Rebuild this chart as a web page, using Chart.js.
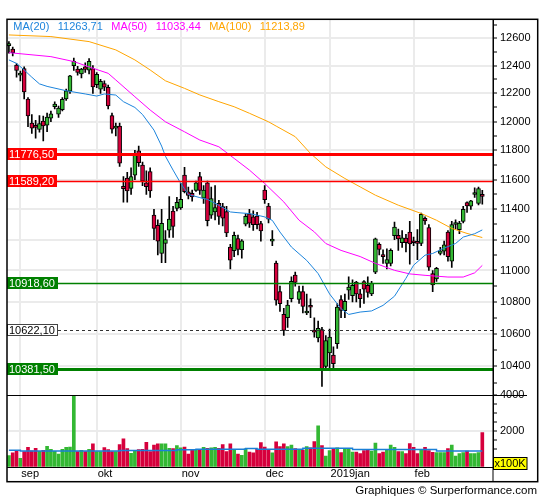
<!DOCTYPE html>
<html>
<head>
<meta charset="utf-8">
<script src="https://cdn.jsdelivr.net/npm/chart.js@4.4.1/dist/chart.umd.min.js"></script>
<style>
  html, body { margin: 0; padding: 0; background: #fff; }
  #wrap { width: 545px; height: 500px; }
</style>
</head>
<body>
<div id="wrap"><canvas id="chart" width="545" height="500"></canvas></div>
<script>
// trading days on the chart
const dates = [
  "2018-08-29","2018-08-30","2018-08-31",
  "2018-09-03","2018-09-04","2018-09-05","2018-09-06","2018-09-07","2018-09-10","2018-09-11","2018-09-12","2018-09-13","2018-09-14",
  "2018-09-17","2018-09-18","2018-09-19","2018-09-20","2018-09-21","2018-09-24","2018-09-25","2018-09-26","2018-09-27","2018-09-28",
  "2018-10-01","2018-10-02","2018-10-04","2018-10-05","2018-10-08","2018-10-09","2018-10-10","2018-10-11","2018-10-12","2018-10-15",
  "2018-10-16","2018-10-17","2018-10-18","2018-10-19","2018-10-22","2018-10-23","2018-10-24","2018-10-25","2018-10-26","2018-10-29",
  "2018-10-30","2018-10-31",
  "2018-11-01","2018-11-02","2018-11-05","2018-11-06","2018-11-07","2018-11-08","2018-11-09","2018-11-12","2018-11-13","2018-11-14",
  "2018-11-15","2018-11-16","2018-11-19","2018-11-20","2018-11-21","2018-11-22","2018-11-23","2018-11-26","2018-11-27","2018-11-28",
  "2018-11-29","2018-11-30",
  "2018-12-03","2018-12-04","2018-12-05","2018-12-06","2018-12-07","2018-12-10","2018-12-11","2018-12-12","2018-12-13","2018-12-14",
  "2018-12-17","2018-12-18","2018-12-19","2018-12-20","2018-12-21","2018-12-27","2018-12-28",
  "2019-01-02","2019-01-03","2019-01-04","2019-01-07","2019-01-08","2019-01-09","2019-01-10","2019-01-11","2019-01-14","2019-01-15",
  "2019-01-16","2019-01-17","2019-01-18","2019-01-21","2019-01-22","2019-01-23","2019-01-24","2019-01-25","2019-01-28","2019-01-29",
  "2019-01-30","2019-01-31",
  "2019-02-01","2019-02-04","2019-02-05","2019-02-06","2019-02-07","2019-02-08","2019-02-11","2019-02-12","2019-02-13","2019-02-14",
  "2019-02-15","2019-02-18","2019-02-19","2019-02-20","2019-02-21","2019-02-22","2019-02-25","2019-02-26","2019-02-27"
];

const open = [12545,12520,12404,12330,12379,12160,11990,11970,11945,12004,
  11975,12025,12105,12053,12085,12160,12215,12400,12375,12340,
  12390,12367,12379,12263,12230,12270,12244,12043,11955,11969,
  11555,11610,11540,11630,11797,11700,11578,11654,11363,11295,
  11110,11175,11262,11388,11406,11410,11631,11518,11507,11528,
  11620,11475,11578,11361,11383,11440,11418,11385,11151,11129,
  11207,11135,11302,11371,11350,11355,11306,11530,11422,11190,
  11047,10866,10721,10701,10820,10970,10815,10866,10730,10771,
  10616,10575,10627,10400,10482,10470,10540,10815,10745,10875,
  10840,10925,10851,10929,10905,10850,10990,11169,11100,11045,
  11045,11226,11229,11180,11210,11250,11185,11185,11175,11340,
  11280,10980,10946,11110,11125,11250,11060,11300,11265,11320,
  11445,11422,11500,11440,11500];

const high = [12575,12535,12415,12360,12390,12170,12050,12010,12043,12040,
  12060,12075,12140,12110,12170,12230,12330,12455,12395,12380,
  12420,12450,12400,12350,12300,12290,12260,12060,11990,11990,
  11620,11650,11680,11800,11830,11720,11660,11680,11400,11330,
  11400,11260,11485,11420,11480,11575,11683,11550,11530,11590,
  11650,11560,11590,11550,11560,11460,11440,11420,11170,11250,
  11230,11200,11370,11400,11390,11380,11320,11560,11440,11260,
  11060,10900,10760,10810,10960,10990,10900,10900,10850,10820,
  10700,10680,10640,10590,10630,10520,10790,10840,10850,10960,
  10940,10930,10880,10935,10960,10930,11210,11180,11133,11140,
  11140,11316,11270,11260,11235,11320,11217,11266,11375,11350,
  11300,11000,11020,11150,11190,11260,11320,11330,11320,11420,
  11450,11460,11545,11549,11527];

const low = [12490,12470,12316,12290,12160,11965,11918,11884,11926,11865,
  11930,12000,12090,12030,12075,12150,12200,12365,12330,12310,
  12350,12340,12200,12240,12200,12220,12090,11920,11900,11690,
  11448,11448,11500,11600,11690,11560,11500,11480,11200,11100,
  11050,11050,11215,11215,11390,11400,11510,11470,11455,11520,
  11500,11440,11290,11340,11330,11300,11290,11220,11010,11090,
  11100,11080,11290,11280,11260,11270,11190,11440,11310,11160,
  10780,10740,10590,10640,10800,10900,10790,10730,10720,10700,
  10580,10550,10279,10380,10380,10390,10510,10700,10700,10815,
  10800,10800,10765,10790,10830,10840,10980,11100,11045,11010,
  11030,11200,11130,11150,11120,11040,11160,11070,11160,11300,
  11000,10865,10930,11100,11100,11060,11020,11270,11240,11310,
  11380,11400,11480,11430,11435];

const close = [12561,12494,12364,12346,12210,12040,11955,11960,11987,11970,
  12032,12055,12124,12096,12157,12219,12326,12430,12350,12374,
  12372,12430,12247,12337,12287,12245,12111,11947,11969,11712,
  11539,11523,11620,11777,11715,11589,11553,11524,11274,11191,
  11307,11201,11335,11287,11447,11468,11519,11494,11484,11579,
  11527,11529,11325,11472,11412,11353,11341,11244,11066,11229,
  11136,11192,11354,11309,11299,11298,11257,11465,11335,11200,
  10811,10788,10622,10780,10931,10924,10866,10772,10740,10766,
  10611,10634,10382,10559,10580,10417,10768,10747,10804,10894,
  10905,10851,10821,10880,10860,10918,11205,11136,11090,11071,
  11130,11282,11205,11212,11180,11173,11180,11176,11368,11324,
  11022,10907,11014,11127,11167,11090,11299,11309,11309,11401,
  11423,11457,11505,11540,11487];

// volume in units of 100K
const volume = [645,800,890,500,870,1110,910,1060,890,945,
  1170,1000,890,740,1000,1110,1130,4000,870,945,
  870,1000,1300,870,870,1090,980,870,870,1260,
  1575,1040,780,890,980,1000,1390,870,1240,1300,
  1300,1300,1060,1040,1205,1075,1130,740,945,980,
  1000,1110,1060,1075,1110,1060,1260,870,1300,960,
  740,665,1020,850,800,1000,1370,1130,960,800,
  1410,1150,1300,1150,1240,1035,960,960,1150,1075,
  1425,2300,1200,630,925,1000,1075,815,1055,1055,
  850,850,760,925,1000,905,1350,760,850,1000,
  1240,1110,870,870,760,1315,1110,760,1000,1110,
  925,835,815,815,815,1035,1240,630,760,815,
  905,760,760,815,1925];

// volume average, read where its steps change: [day index, value]
const volAvg = [[0,945],[3,905],[29,935],[44,975],[49,1000],[62,1040],[65,1000],
  [77,1055],[90,990],[112,910],[124,910]];

// moving averages: [day index, value]
const ma20 = [[0,12441],[2,12416],[4,12368],[6,12316],[8,12268],[10,12250],[15,12219],
  [20,12196],[23,12181],[25,12196],[28,12188],[30,12141],[33,12100],[35,12050],[38,11941],
  [40,11830],[41,11760],[43,11665],[45,11575],[47,11500],[50,11479],[52,11467],[55,11427],
  [58,11383],[60,11378],[63,11372],[66,11356],[67,11350],[69,11327],[71,11250],[74,11152],
  [78,11065],[81,10980],[84,10850],[87,10757],[89,10721],[92,10736],[95,10743],[98,10778],
  [101,10836],[104,10950],[106,11034],[109,11099],[111,11110],[114,11145],[117,11175],
  [119,11217],[122,11239],[124,11264]];
const ma50 = [[0,12494],[11,12465],[17,12429],[22,12381],[26,12344],[28,12296],[33,12176],
  [37,12082],[41,11999],[46,11929],[50,11872],[55,11825],[59,11745],[63,11665],[67,11574],
  [72,11450],[76,11328],[80,11251],[83,11175],[87,11130],[92,11090],[96,11046],[101,11001],
  [105,10978],[109,10969],[115,10958],[119,10958],[122,10985],[124,11033]];
const ma100 = [[0,12624],[11,12612],[21,12575],[28,12514],[33,12441],[37,12368],[41,12290],
  [46,12236],[50,12189],[55,12141],[59,12105],[63,12059],[68,11999],[70,11969],[75,11895],
  [79,11779],[83,11687],[88,11608],[92,11551],[96,11495],[102,11428],[108,11373],[112,11328],
  [116,11274],[120,11241],[124,11214]];

const maNames = ["MA(20)", "MA(50)", "MA(100)"];
const maLatest = [11263.71, 11033.44, 11213.89];

// horizontal levels
const levels = [11776.50, 11589.20, 10918.60, 10622.10, 10381.50];

// axis labels
const priceLabels = [10400, 10600, 10800, 11000, 11200, 11400, 11600, 11800, 12000, 12200, 12400, 12600];
const volumeLabels = [2000, 4000];
const monthNames = ["jan","feb","mrt","apr","mei","jun","jul","aug","sep","okt","nov","dec"];

// ---- styles ----
const UP = "#33b833";
const DOWN = "#d6003c";
const MA_COLORS = ["#1c84dc", "#ff00ff", "#ffa500"];
const LEVEL_STYLE = [
  { color: "#ff0000", width: 3, dash: [], fill: "#ff0000", text: "#fff" },
  { color: "#ff0000", width: 1.5, dash: [], fill: "#ff0000", text: "#fff" },
  { color: "#008000", width: 1.5, dash: [], fill: "#008000", text: "#fff" },
  { color: "#333333", width: 1, dash: [3, 3], fill: "#fff", text: "#000" },
  { color: "#008000", width: 3, dash: [], fill: "#008000", text: "#fff" }
];
const FONT = '"Liberation Sans", Arial, sans-serif';
const GRID = "#ebebeb";

Chart.defaults.font.family = FONT;
Chart.defaults.font.size = 11;
Chart.defaults.color = "#000";

// month starts for the date axis
const monthStarts = [];
const monthLabel = {};
dates.forEach((d, i) => {
  if (i > 0 && d.slice(0, 7) !== dates[i - 1].slice(0, 7)) {
    const m = +d.slice(5, 7);
    monthStarts.push(i);
    monthLabel[i] = m === 1 ? d.slice(0, 4) + "jan" : monthNames[m - 1];
  }
});

const candleColors = close.map((c, i) => c >= open[i] ? UP : DOWN);
const fmt = v => v.toFixed(2).replace(".", ",");
const pts = arr => arr.map(p => ({ x: p[0], y: p[1] }));

const overlay = {
  id: "overlay",
  afterDatasetsDraw(chart) {
    const { ctx, chartArea, scales } = chart;
    ctx.save();
    ctx.font = "11px " + FONT;
    ctx.textBaseline = "middle";
    levels.forEach((lv, k) => {
      const st = LEVEL_STYLE[k];
      const py = Math.round(scales.y.getPixelForValue(lv)) + 0.5;
      const text = fmt(lv);
      const w = Math.round(ctx.measureText(text).width) + 5;
      ctx.strokeStyle = st.color;
      ctx.lineWidth = st.width;
      ctx.setLineDash(st.dash);
      ctx.beginPath();
      ctx.moveTo(chartArea.left + w, py);
      ctx.lineTo(chartArea.right, py);
      ctx.stroke();
      ctx.setLineDash([]);
      ctx.fillStyle = st.fill;
      ctx.fillRect(chartArea.left, py - 6.5, w, 12);
      if (st.fill === "#fff") {
        ctx.strokeStyle = "#444";
        ctx.lineWidth = 1;
        ctx.strokeRect(chartArea.left + 0.5, py - 6, w - 1, 11);
      }
      ctx.fillStyle = st.text;
      ctx.textAlign = "left";
      ctx.fillText(text, chartArea.left + 2, py);
    });
    ctx.restore();
  },
  afterDraw(chart) {
    const { ctx, chartArea, scales } = chart;
    const bottom = scales.x.bottom;
    ctx.save();
    // legend
    ctx.font = "11px " + FONT;
    ctx.textBaseline = "middle";
    ctx.textAlign = "left";
    let x = 13.3;
    maNames.forEach((name, k) => {
      ctx.fillStyle = MA_COLORS[k];
      [name, fmt(maLatest[k])].forEach(t => {
        ctx.fillText(t, x, 27);
        x += ctx.measureText(t).width + 8.4;
      });
    });
    // panel separator, runs through the 4000 label
    ctx.strokeStyle = "#000";
    ctx.lineWidth = 1;
    const sy = Math.round(scales.v.top) + 0.5;
    ctx.beginPath();
    ctx.moveTo(chartArea.left, sy);
    ctx.lineTo(527, sy);
    ctx.stroke();
    // right axis line down to the frame
    ctx.beginPath();
    ctx.moveTo(chartArea.right, chartArea.top);
    ctx.lineTo(chartArea.right, bottom);
    ctx.stroke();
    // outer frame
    ctx.lineWidth = 1.5;
    ctx.strokeRect(chartArea.left, chartArea.top, 537.7 - chartArea.left, bottom - chartArea.top);
    // unit box
    ctx.fillStyle = "#ffff00";
    ctx.fillRect(493.5, 457.5, 33.5, 12);
    ctx.lineWidth = 1;
    ctx.strokeRect(493.5, 457.5, 33.5, 12);
    ctx.fillStyle = "#000";
    ctx.fillText("x100K", 494.5, 463.8);
    // credit
    ctx.font = "11.5px " + FONT;
    ctx.textAlign = "right";
    ctx.fillText("Graphiques \u00a9 Surperformance.com", 537, 491);
    ctx.restore();
  }
};

new Chart(document.getElementById("chart"), {
  type: "bar",
  data: {
    datasets: [
      { type: "line", label: maNames[0], data: pts(ma20), yAxisID: "y", borderColor: MA_COLORS[0], borderWidth: 1, pointRadius: 0, order: 0 },
      { type: "line", label: maNames[1], data: pts(ma50), yAxisID: "y", borderColor: MA_COLORS[1], borderWidth: 1, pointRadius: 0, order: 0 },
      { type: "line", label: maNames[2], data: pts(ma100), yAxisID: "y", borderColor: MA_COLORS[2], borderWidth: 1, pointRadius: 0, order: 0 },
      {
        label: "body",
        data: close.map((c, i) => ({ x: i, y: [open[i], c] })),
        yAxisID: "y",
        backgroundColor: candleColors,
        borderColor: "#000",
        borderWidth: 1,
        borderSkipped: false,
        barThickness: 4,
        minBarLength: 2,
        grouped: false,
        order: 1
      },
      {
        label: "wick",
        data: high.map((h, i) => ({ x: i, y: [low[i], h] })),
        yAxisID: "y",
        backgroundColor: "#000",
        barThickness: 1,
        grouped: false,
        order: 2
      },
      {
        label: "volume",
        data: volume.map((v, i) => ({ x: i, y: v })),
        yAxisID: "v",
        backgroundColor: candleColors,
        barThickness: 3,
        grouped: false,
        order: 3
      },
      { type: "line", label: "vol avg", data: pts(volAvg), yAxisID: "v", stepped: true, borderColor: "#1a7fd6", borderWidth: 1.5, pointRadius: 0, order: 0 }
    ]
  },
  options: {
    responsive: false,
    animation: false,
    devicePixelRatio: 1,
    layout: { padding: { left: 7, top: 19.3, right: 7, bottom: 18.3 } },
    plugins: { legend: { display: false }, tooltip: { enabled: false } },
    scales: {
      x: {
        type: "linear",
        min: -0.5,
        max: 126.8,
        offset: false,
        grid: { color: GRID, lineWidth: 2, drawTicks: false, offset: false },
        border: { color: "#000" },
        afterBuildTicks: s => { s.ticks = monthStarts.map(i => ({ value: i })); },
        afterFit: s => { s.height = 14.4; },
        ticks: {
          autoSkip: false, maxRotation: 0, align: "start", padding: 0, labelOffset: 1,
          callback: v => monthLabel[v] || ""
        }
      },
      y: {
        type: "logarithmic",
        position: "right",
        stack: "panes",
        stackWeight: 376,
        min: 10226,
        max: 12740,
        beginAtZero: false,
        offset: false,
        grid: {
          color: c => priceLabels.includes(c.tick && c.tick.value) ? GRID : "rgba(0,0,0,0)",
          lineWidth: 2, tickColor: "#000", tickLength: 4, tickWidth: 1
        },
        border: { color: "#000" },
        afterBuildTicks: s => {
          const t = [];
          for (let v = 10300; v <= 12700; v += 100) t.push({ value: v });
          s.ticks = t;
        },
        afterFit: s => { s.width = 45; },
        ticks: { autoSkip: false, padding: 3, callback: v => priceLabels.includes(v) ? String(v) : "" }
      },
      v: {
        type: "linear",
        position: "right",
        stack: "panes",
        stackWeight: 72,
        min: 0,
        max: 4000,
        offset: false,
        grid: {
          color: c => (c.tick && c.tick.value === 2000) ? GRID : "rgba(0,0,0,0)",
          lineWidth: 2, tickColor: "#000", tickLength: 4, tickWidth: 1
        },
        border: { color: "#000" },
        afterBuildTicks: s => {
          const t = [];
          for (let v = 0; v <= 4000; v += 500) t.push({ value: v });
          s.ticks = t;
        },
        afterFit: s => { s.width = 45; },
        ticks: { autoSkip: false, padding: 3, callback: v => volumeLabels.includes(v) ? String(v) : "" }
      }
    }
  },
  plugins: [overlay]
});
</script>
</body>
</html>
